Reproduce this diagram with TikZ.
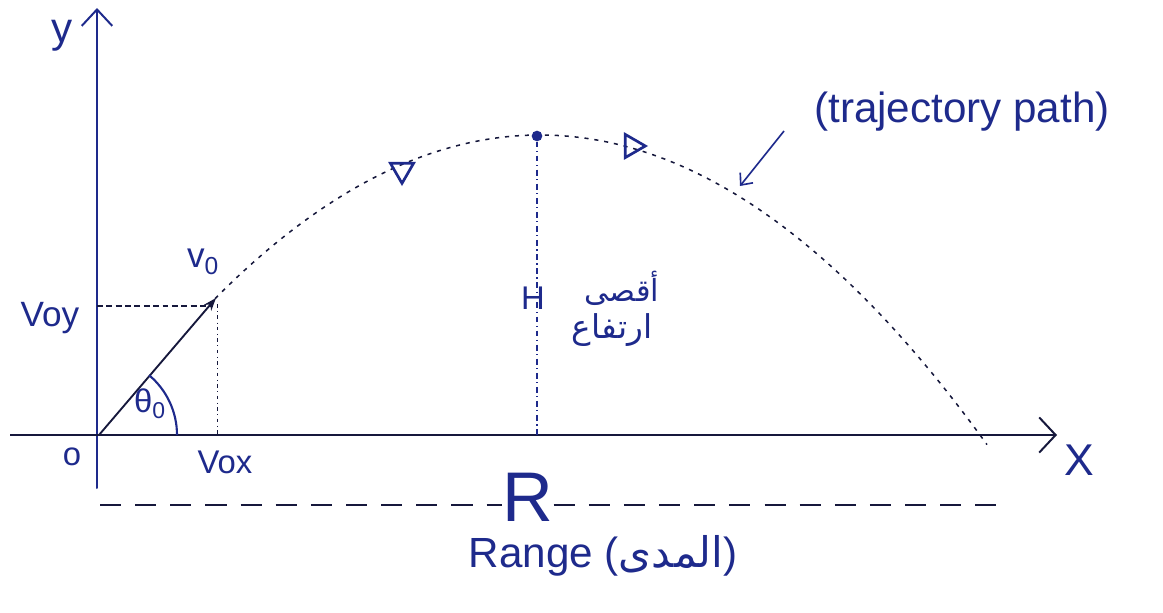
\documentclass[tikz,border=0pt]{standalone}
\usepackage{fontspec}
\setmainfont{Liberation Sans}
\newfontfamily\arabicfont[Script=Arabic]{DejaVu Sans}
\TeXXeTstate=1
\usetikzlibrary{arrows.meta,shapes.geometric}
\definecolor{ink}{RGB}{30,42,140}
\definecolor{dark}{RGB}{22,24,60}
\begin{document}
\begin{tikzpicture}[x=0.03cm,y=-0.03cm,
  lbl/.style={text=ink, inner sep=0pt},
  fs/.style={font=\fontsize{#1}{#1}\selectfont},
  axisy/.style={draw=ink, line width=1.7pt, line cap=round,
    -{Straight Barb[length=14pt,width=26pt,line width=1.7pt]}},
  axisx/.style={draw=dark, line width=1.7pt,
    -{Straight Barb[length=14pt,width=30pt,line width=1.7pt]}},
  vec/.style={draw=dark, line width=1.6pt, -{Stealth[length=11pt,width=8pt]}},
  traj/.style={draw=dark, line width=1.3pt, dash pattern=on 3.5pt off 5pt},
  thindash/.style={draw=dark, line width=0.9pt, dash pattern=on 5pt off 3pt},
  dotdash/.style={draw=dark, line width=0.8pt, dash pattern=on 3pt off 3pt on 0.8pt off 3pt},
  hline/.style={draw=ink, line width=1.1pt, dash pattern=on 5pt off 3pt on 1pt off 3pt},
  rline/.style={draw=dark, line width=1.2pt, dash pattern=on 18pt off 12pt},
  tri/.style={draw=ink, line width=2.3pt, regular polygon, regular polygon sides=3,
    minimum size=0.8cm, inner sep=0pt},
  pointer/.style={draw=ink, line width=1.4pt, -{Straight Barb[length=8pt,width=14pt,line width=1.4pt]}}
]
\useasboundingbox (0,0) rectangle (1163,613);

% axes
\coordinate (O) at (99,435);
\coordinate (ytop) at (97,8);
\coordinate (ybot) at (97,488);
\coordinate (xleft) at (10,435);
\coordinate (xright) at (1057,435);
\draw[axisy] (ybot) -- (ytop);
\draw[axisx] (xleft) -- (xright);

\node[lbl, fs=36] (ylab) at (62,36) {y};
\node[lbl, fs=38] (xlab) at (1079,460) {X};
\node[lbl, fs=28] (olab) at (72,457) {o};

% trajectory
\draw[traj] plot[domain=215:987, samples=90, smooth] (\x,{135+300*((\x-540)/440)^2});

% initial velocity
\coordinate (V0) at (216,298);
\coordinate (Voyax) at (97,306);
\coordinate (Voyend) at (212,306);
\coordinate (Voxtop) at (217,304);
\coordinate (Voxbot) at (217,435);
\draw[thindash] (Voyax) -- (Voyend);
\draw[dotdash] (Voxtop) -- (Voxbot);
\draw[vec] (O) -- (V0);
\draw[draw=ink, line width=1.8pt] ([xshift=2.34cm]O) arc[start angle=0, end angle=50, radius=2.34cm];

\node[lbl, fs=30] (voylab) at (50,318) {Voy};
\node[lbl, fs=28] (voxlab) at (225,462) {Vox};
\node[lbl, fs=30] (v0lab) at (203,262) {v\textsubscript{0}};
\node[lbl, fs=28] (thlab) at (150,404) {θ\textsubscript{0}};

% peak and height
\node[circle, fill=ink, minimum size=0.32cm, inner sep=0pt] (top) at (537,136) {};
\coordinate (Hfoot) at (537,435);
\node[lbl, fs=28] (H) at (533,298) {H};
\draw[hline] (top) -- ([yshift=-6pt]H.north -| top);
\draw[hline] ([yshift=6pt]H.south -| top) -- (Hfoot);

\node[tri, shape border rotate=180] (t1) at (402,170) {};
\node[tri, shape border rotate=-90] (t2) at (632,146) {};

\node[lbl, font=\arabicfont\fontsize{26}{28}\selectfont] (aqsa) at (622,288) {\beginR أقصى\endR};
\node[lbl, font=\arabicfont\fontsize{28}{30}\selectfont] (irtifa) at (612,330) {\beginR ارتفاع\endR};

% trajectory label
\node[lbl, fs=36] (trajlbl) at (962,112) {(trajectory path)};
\coordinate (trajfrom) at (784,131);
\coordinate (trajtip) at (740,186);
\draw[pointer] (trajfrom) -- (trajtip);

% range
\node[lbl, fs=60] (R) at (528,497) {R};
\coordinate (Rl) at (100,505);
\coordinate (Rr) at (1000,505);
\draw[rline] (Rl) -- (R.west |- Rl);
\draw[rline] (R.east |- Rr) -- (Rr);
\node[lbl, fs=36] (range) at (603,556) {Range ({\arabicfont\beginR المدى\endR})};
\end{tikzpicture}
\end{document}
